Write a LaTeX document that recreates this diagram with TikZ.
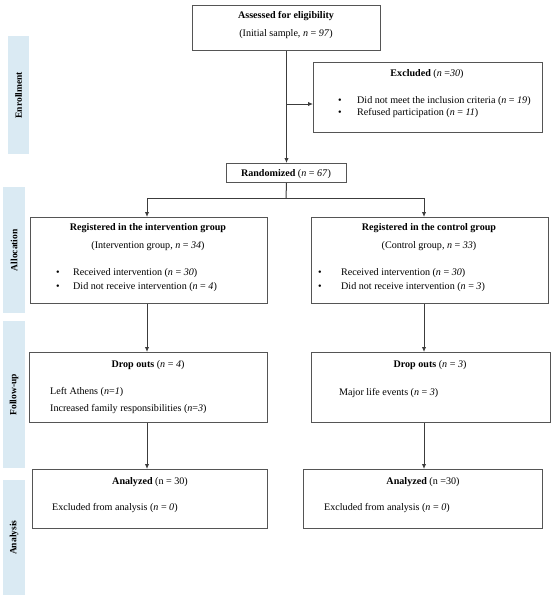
\documentclass[tikz,border=0pt]{standalone}
\usepackage{fontspec}
\setmainfont{Liberation Serif}
\usetikzlibrary{arrows.meta}
\definecolor{bandblue}{RGB}{218,234,243}
\definecolor{boxgray}{RGB}{85,85,85}
\definecolor{linegray}{RGB}{60,60,60}
\newcommand{\nI}{\textit{n}}
\begin{document}
\begin{tikzpicture}[x=1pt,y=-1pt,
  box/.style={draw=boxgray,line width=1pt,rectangle,inner sep=0pt,anchor=north west},
  band/.style={fill=bandblue,rectangle,inner sep=0pt,anchor=north west},
  bandtxt/.style={rotate=90,font=\fontsize{9.5}{11}\selectfont\bfseries,inner sep=0pt},
  txt/.style={font=\fontsize{10.1}{12}\selectfont,inner sep=0pt,yshift=-1.2pt},
  conn/.style={draw=linegray,line width=1pt},
  arr/.style={conn,-{Latex[length=5pt,width=4.5pt]}}]
\useasboundingbox (0,0) rectangle (553,600);

% phase bands
\node[band,minimum width=21pt,minimum height=118pt] (bEnr) at (8,36) {};
\node[bandtxt] (tEnr) at (bEnr.center) {Enrollment};
\node[band,minimum width=22pt,minimum height=126pt] (bAll) at (3,187) {};
\node[bandtxt] (tAll) at (bAll.center) {Allocation};
\node[band,minimum width=22pt,minimum height=147pt] (bFol) at (3,321) {};
\node[bandtxt] (tFol) at (bFol.center) {Follow-up};
\node[band,minimum width=22pt,minimum height=115pt] (bAna) at (3,480) {};
\node[bandtxt] (tAna) at (bAna.center) {Analysis};

% boxes
\node[box,minimum width=188pt,minimum height=45pt] (assess) at (192,5) {};
\node[box,minimum width=229pt,minimum height=70pt] (excl) at (313,62) {};
\node[box,minimum width=120pt,minimum height=19pt] (rand) at (226,163) {};
\node[box,minimum width=237pt,minimum height=86pt] (reg1) at (30,217) {};
\node[box,minimum width=237pt,minimum height=86pt] (reg2) at (311,217) {};
\node[box,minimum width=238pt,minimum height=70pt] (drop1) at (29,352) {};
\node[box,minimum width=239pt,minimum height=70pt] (drop2) at (311,352) {};
\node[box,minimum width=235pt,minimum height=59pt] (ana1) at (32,469) {};
\node[box,minimum width=239pt,minimum height=59pt] (ana2) at (303,469) {};

% texts
\node[txt] (assT) at (286,15) {\textbf{Assessed for eligibility}};
\node[txt] (assS) at (286,33) {(Initial sample, \nI{} = \textit{97})};

\node[txt] (exT) at (427,73) {\textbf{Excluded} (\nI{} =\textit{30})};
\node[txt] (exB1) at (340,100) {\textbullet};
\node[txt,anchor=west] (ex1) at (357,100) {Did not meet the inclusion criteria (\nI{} = \textit{19})};
\node[txt] (exB2) at (340,112) {\textbullet};
\node[txt,anchor=west] (ex2) at (357,112) {Refused participation (\nI{} = \textit{11})};

\node[txt] (randT) at (286,172.5) {\textbf{Randomized} (\nI{} = \textit{67})};

\node[txt] (r1T) at (148,227) {\textbf{Registered in the intervention group}};
\node[txt] (r1S) at (148,245) {(Intervention group, \nI{} = \textit{34})};
\node[txt] (r1B1) at (58,272) {\textbullet};
\node[txt,anchor=west] (r1a) at (73,272) {Received intervention (\nI{} = \textit{30})};
\node[txt] (r1B2) at (58,286) {\textbullet};
\node[txt,anchor=west] (r1b) at (73,286) {Did not receive intervention (\nI{} = \textit{4})};

\node[txt] (r2T) at (429,227) {\textbf{Registered in the control group}};
\node[txt] (r2S) at (429,245) {(Control group, \nI{} = \textit{33})};
\node[txt] (r2B1) at (320,272) {\textbullet};
\node[txt,anchor=west] (r2a) at (341,272) {Received intervention (\nI{} = \textit{30})};
\node[txt] (r2B2) at (320,286) {\textbullet};
\node[txt,anchor=west] (r2b) at (341,286) {Did not receive intervention (\nI{} = \textit{3})};

\node[txt] (d1T) at (148,364) {\textbf{Drop outs} (\nI{} = \textit{4})};
\node[txt,anchor=west] (d1a) at (50,391) {Left Athens (\nI{}=\textit{1})};
\node[txt,anchor=west] (d1b) at (50,408) {Increased family responsibilities (\nI{}=\textit{3})};

\node[txt] (d2T) at (430,364) {\textbf{Drop outs} (\nI{} = \textit{3})};
\node[txt,anchor=west] (d2a) at (339,392) {Major life events (\nI{} = \textit{3})};

\node[txt] (a1T) at (150,481) {\textbf{Analyzed} (n = 30)};
\node[txt,anchor=west] (a1a) at (52,507) {Excluded from analysis (\nI{} = \textit{0})};

\node[txt] (a2T) at (423,481) {\textbf{Analyzed} (n =30)};
\node[txt,anchor=west] (a2a) at (324,507) {Excluded from analysis (\nI{} = \textit{0})};

% connectors
\coordinate (br) at (286,104);
\draw[arr] (assess.south) -- (rand.north);
\draw[arr] (br) -- (excl.west |- br);
\coordinate (split) at (286,198);
\coordinate (splitL) at (147,198);
\coordinate (splitR) at (424,198);
\draw[conn] (rand.south) -- (split);
\draw[conn] (splitL) -- (splitR);
\draw[arr] (splitL) -- (reg1.north -| splitL);
\draw[arr] (splitR) -- (reg2.north -| splitR);
\draw[arr] (reg1.south -| splitL) -- (drop1.north -| splitL);
\draw[arr] (reg2.south -| splitR) -- (drop2.north -| splitR);
\draw[arr] (drop1.south -| splitL) -- (ana1.north -| splitL);
\draw[arr] (drop2.south -| splitR) -- (ana2.north -| splitR);
\end{tikzpicture}
\end{document}
